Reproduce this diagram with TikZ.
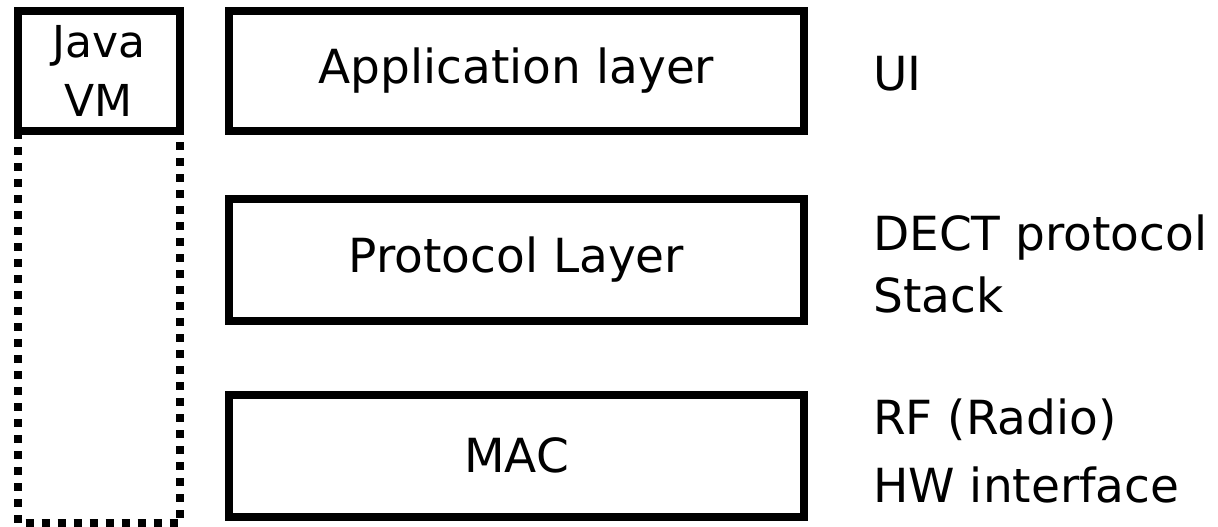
\documentclass[tikz,border=0pt]{standalone}
\usepackage{fontspec}
\setmainfont{DejaVu Sans}
\begin{document}
\begin{tikzpicture}[x=1pt,y=-1pt,
  layerbox/.style={draw=black,line width=8pt,rectangle,inner sep=0pt,minimum width=575pt,
    font=\fontsize{47}{58}\selectfont},
  vmbox/.style={draw=black,line width=8pt,rectangle,inner sep=0pt,minimum width=162.5pt,
    minimum height=120pt,align=center,font=\fontsize{44}{59}\selectfont},
  dotline/.style={draw=black,line width=8pt,dash pattern=on 8pt off 8pt},
  sidetext/.style={inner sep=0pt,align=left}]
\useasboundingbox (0,0) rectangle (1218,527);
% layer boxes
\node[layerbox,minimum height=120pt] (app) at (516.5,71) {Application layer};
\node[layerbox,minimum height=121.5pt] (prot) at (516.5,259.75) {Protocol Layer};
\node[layerbox,minimum height=121.5pt] (mac) at (516.5,455.75) {MAC};
% Java VM
\node[vmbox] (vm) at (98.75,71) {Java\\VM};
\coordinate (vmbl) at (17.5,523);
\coordinate (vmbr) at (180,523);
\draw[dotline] ([shift={(4pt,4pt)}]vm.south west) -- (vmbl) -- (vmbr) -- ([shift={(-4pt,4pt)}]vm.south east);
% side labels
\node[sidetext,font=\fontsize{47}{58}\selectfont,anchor=base west] (ui) at (873,90) {UI};
\node[sidetext,font=\fontsize{47}{62}\selectfont,anchor=base west] (dect) at (873,312) {DECT protocol\\Stack};
\node[sidetext,font=\fontsize{47}{68}\selectfont,anchor=base west] (rf) at (873,502) {RF (Radio)\\HW interface};
\end{tikzpicture}
\end{document}
